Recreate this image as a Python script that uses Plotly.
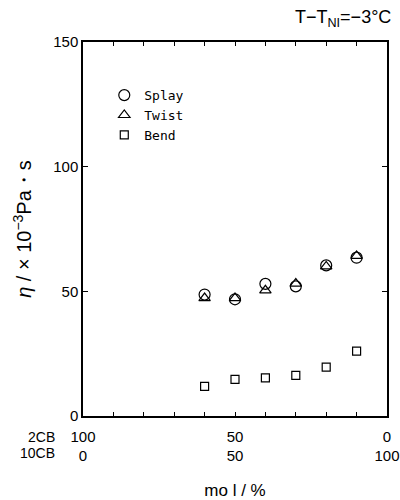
import plotly.graph_objects as go

x_2cb = [60, 50, 40, 30, 20, 10]
splay = [48.7, 46.8, 53.0, 52.0, 60.4, 63.5]
twist = [47.3, 47.3, 50.4, 53.1, 60.0, 64.2]
bend = [11.9, 14.7, 15.3, 16.3, 19.6, 26.0]

x_tickvals = [100, 90, 80, 70, 60, 50, 40, 30, 20, 10, 0]
x_row1 = ["100", "", "", "", "", "50", "", "", "", "", "0"]
x_row2 = ["0", "", "", "", "", "50", "", "", "", "", "100"]
y_tickvals = [0, 50, 100, 150]

fig = go.Figure()
fig.add_trace(go.Scatter(x=x_2cb, y=splay, mode="markers", name="Splay",
                         marker=dict(symbol="circle-open", size=11, color="black", line=dict(width=1.2))))
fig.add_trace(go.Scatter(x=x_2cb, y=twist, mode="markers", name="Twist",
                         marker=dict(symbol="triangle-up-open", size=10, color="black", line=dict(width=1.2))))
fig.add_trace(go.Scatter(x=x_2cb, y=bend, mode="markers", name="Bend",
                         marker=dict(symbol="square-open", size=8, color="black", line=dict(width=1.2))))

ticktext = [f"{a}<br>{b}" if a or b else "" for a, b in zip(x_row1, x_row2)]

fig.update_layout(
    width=400, height=500,
    margin=dict(l=83, r=13, t=42, b=84),
    plot_bgcolor="white", paper_bgcolor="white",
    font=dict(family="Liberation Sans, Arial", size=15, color="black"),
    showlegend=True,
    legend=dict(x=0.07, y=0.898, xanchor="left", yanchor="top",
                bgcolor="rgba(0,0,0,0)", tracegroupgap=0,
                font=dict(family="DejaVu Sans Mono", size=13)),
    xaxis=dict(range=[100, 0], tickvals=x_tickvals, ticktext=ticktext, automargin=False,
               ticks="inside", ticklen=4, tickwidth=1, tickcolor="black",
               ticklabelstandoff=6,
               showline=True, linecolor="black", linewidth=1.5, mirror="ticks",
               showgrid=False, zeroline=False,
               title=dict(text="mo l / %", font=dict(size=17), standoff=22)),
    yaxis=dict(range=[0, 150], tickvals=y_tickvals, automargin=False,
               ticks="inside", ticklen=5, tickwidth=1, tickcolor="black",
               showline=True, linecolor="black", linewidth=1.5, mirror="ticks",
               showgrid=False, zeroline=False,
               title=dict(text="<i>η</i> / × 10<sup>−3</sup>Pa・s", font=dict(size=20), standoff=16)),
)

fig.add_annotation(text="2CB", xref="paper", yref="paper", x=-0.085, y=-0.055,
                   xanchor="right", yanchor="middle", showarrow=False, font=dict(size=14))
fig.add_annotation(text="10CB", xref="paper", yref="paper", x=-0.085, y=-0.1,
                   xanchor="right", yanchor="middle", showarrow=False, font=dict(size=14))
fig.add_annotation(text="T−T<sub>NI</sub>=−3°C", xref="paper", yref="paper", x=1.02, y=1.062,
                   xanchor="right", yanchor="middle", showarrow=False, font=dict(size=18))

fig.write_html("out.html")
